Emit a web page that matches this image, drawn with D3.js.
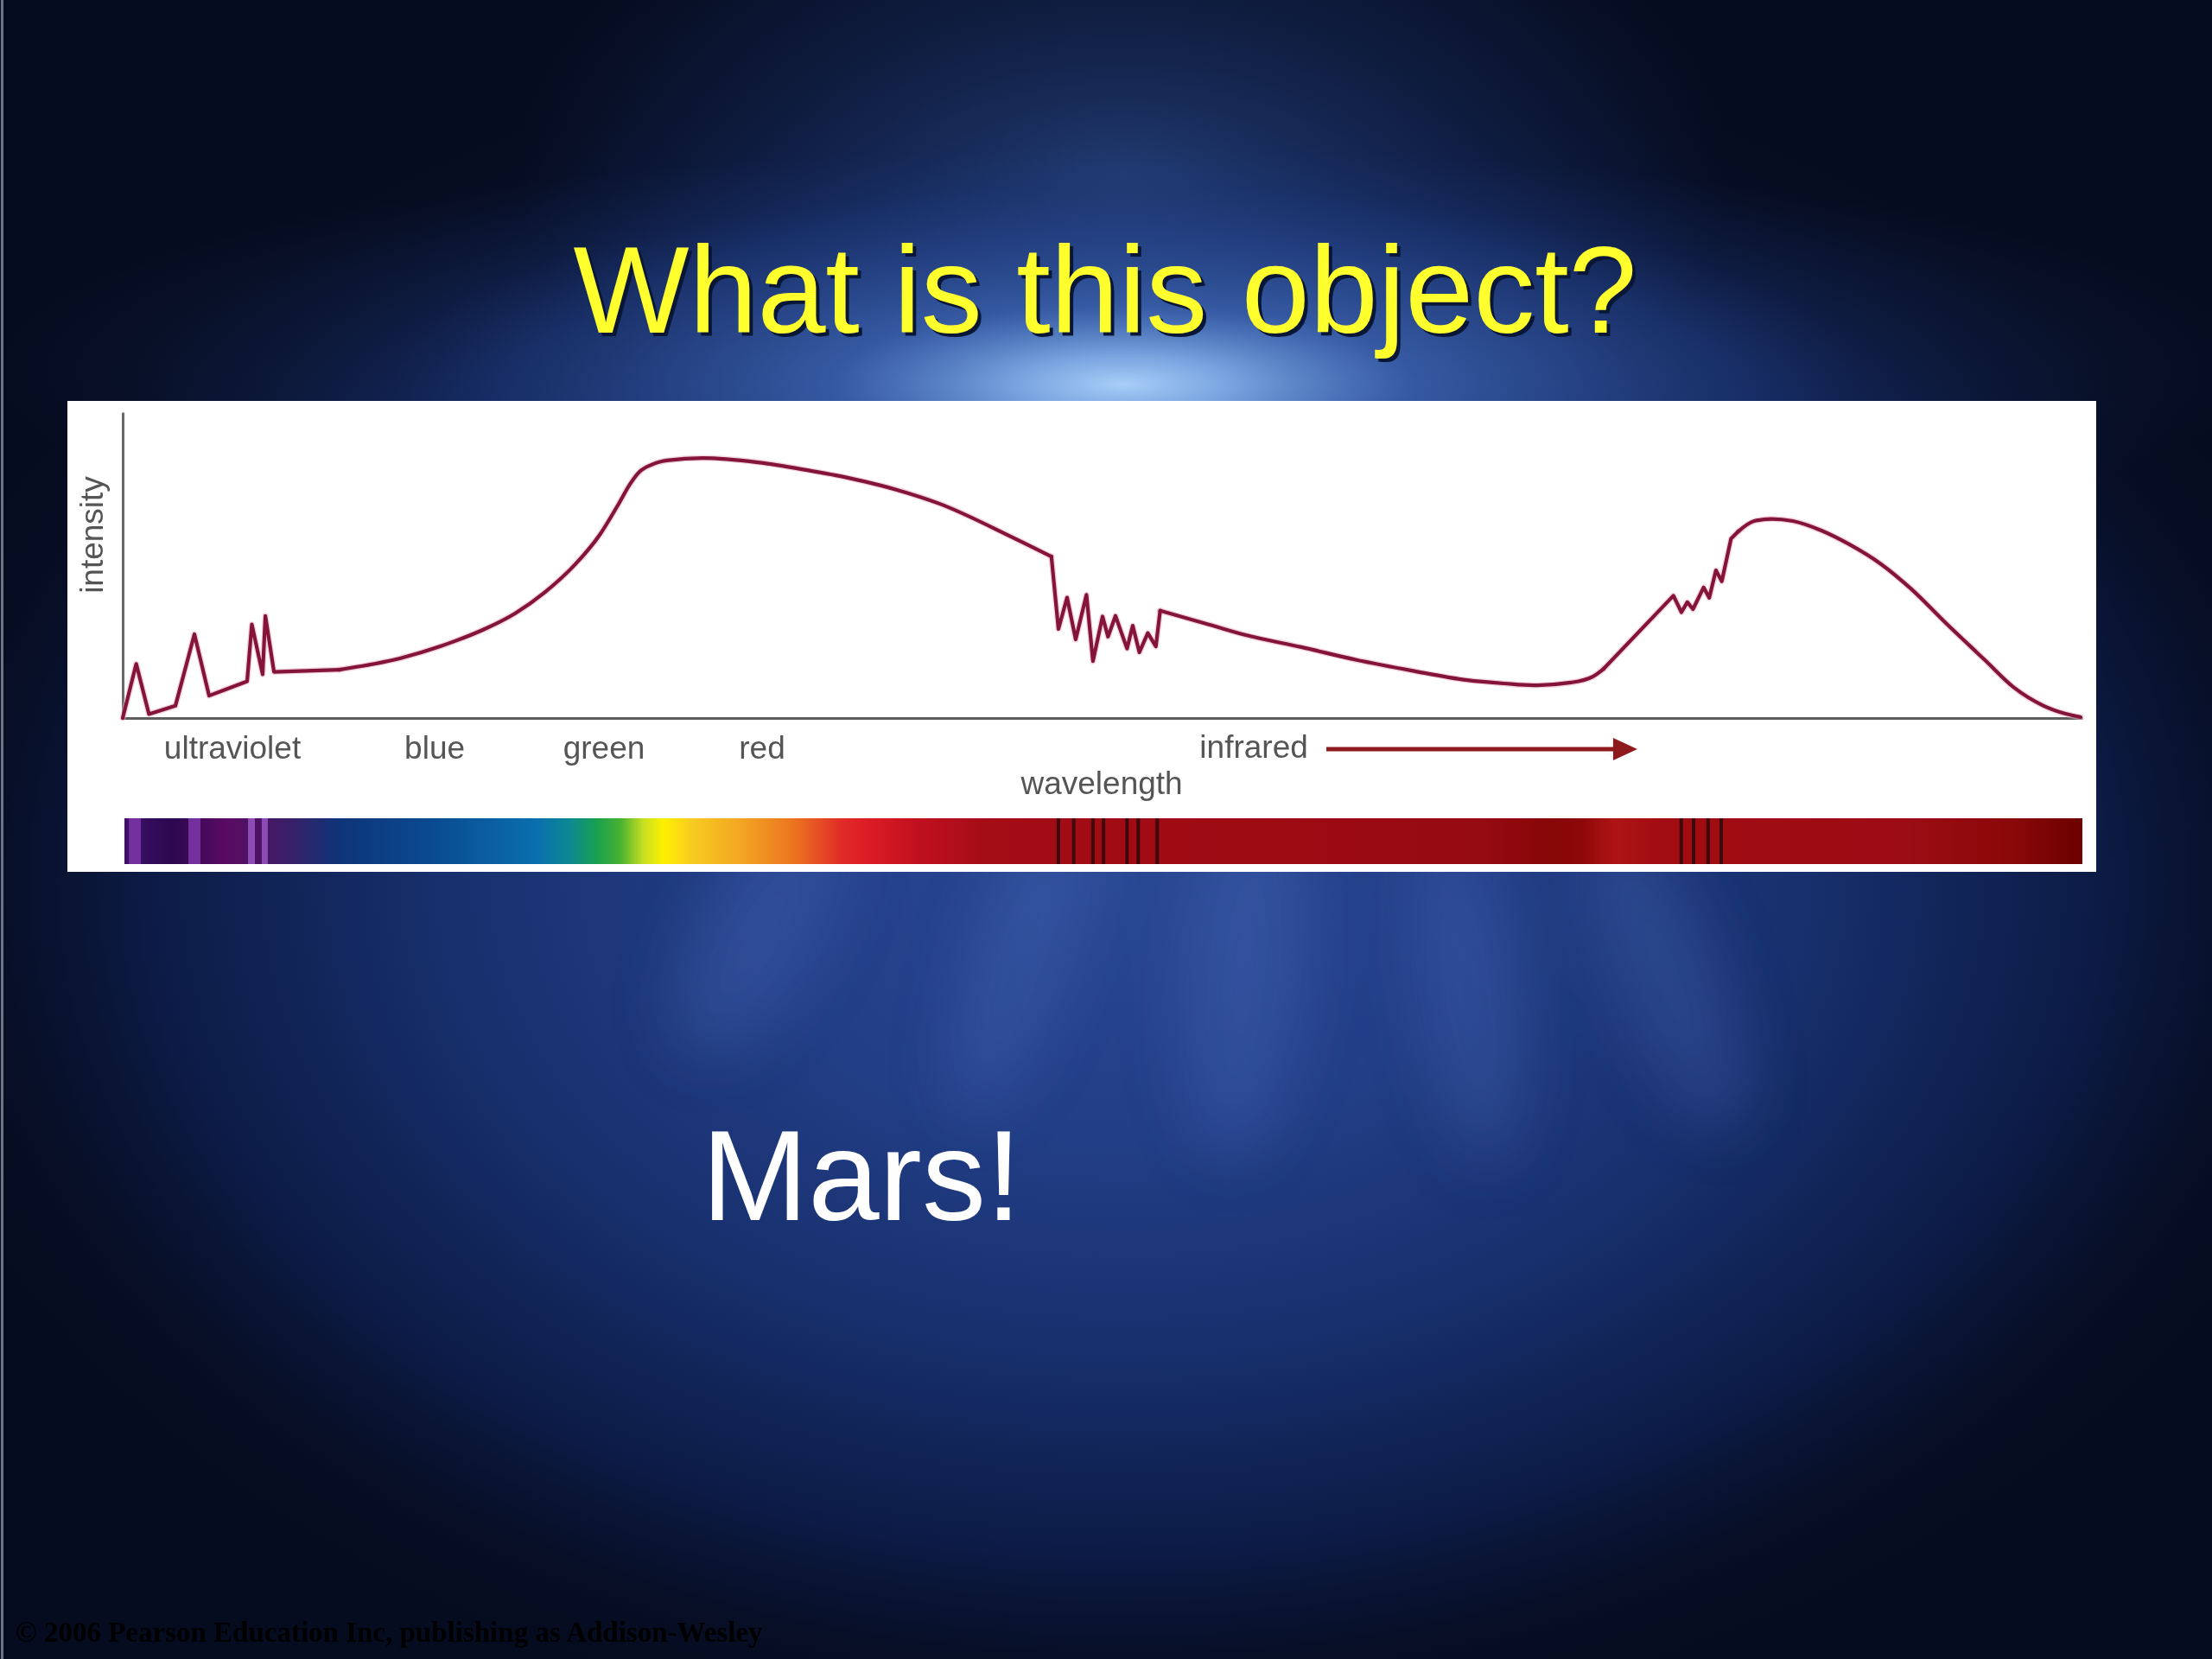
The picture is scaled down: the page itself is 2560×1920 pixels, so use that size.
<!DOCTYPE html>
<html>
<head>
<meta charset="utf-8">
<script src="https://cdn.jsdelivr.net/npm/d3@7"></script>
<style>
  html, body { margin: 0; padding: 0; background: #060c20; }
  svg { display: block; }
</style>
</head>
<body>
<script>
// ---------------- DATA ----------------
// wavelength in arbitrary units (0..1000), intensity in arbitrary units (0..100)
const wavelength = [
  0.0, 6.9, 13.4, 26.9, 36.6, 44.1, 63.5, 65.9, 71.4, 72.8, 77.2,
  110.5, 141.4, 169.3, 184.7, 200.2, 215.6, 231.0, 243.4, 252.6, 259.0, 263.7, 269.8, 277.6,
  296.1, 324.1, 348.8, 370.4, 395.1, 416.7, 453.3, 473.9,
  477.5, 481.9, 486.3, 491.8, 495.1, 500.0, 502.8, 506.6, 512.5, 515.4, 518.8, 523.1, 527.2, 529.4,
  554.2, 573.2, 601.4, 629.6, 657.8, 686.1, 705.0, 720.0, 739.0, 750.3, 755.7,
  791.3, 795.4, 798.4, 801.3, 806.7, 809.6, 813.0, 816.0, 820.7, 824.4,
  832.5, 841.3, 852.3, 866.8, 881.0, 897.3, 912.3, 931.2, 950.2, 965.2, 980.2, 991.4, 999.1
];
const intensity = [
  0.0, 17.7, 1.3, 4.0, 27.4, 7.3, 12.0, 30.6, 14.3, 33.4, 15.1,
  15.8, 19.5, 25.1, 29.1, 34.2, 41.2, 50.3, 59.9, 69.5, 76.6, 80.5, 82.8, 84.2,
  85.0, 83.6, 81.1, 78.5, 74.6, 70.1, 59.3, 52.8,
  29.1, 39.4, 25.7, 40.3, 18.6, 33.2, 26.6, 33.4, 22.7, 30.2, 21.5, 27.8, 23.4, 35.1,
  30.6, 27.1, 23.2, 19.0, 15.5, 12.4, 11.3, 10.7, 11.6, 13.6, 16.1,
  40.0, 34.6, 37.9, 35.6, 42.7, 39.3, 48.3, 44.7, 58.6, 61.0,
  64.4, 65.1, 64.4, 61.3, 56.8, 50.3, 42.4, 30.5, 19.0, 9.9, 4.0, 1.4, 0.3
];
const bandLabels = ["ultraviolet", "blue", "green", "red"];
const bandPositions = [56.0, 159.2, 245.6, 326.3];
const infraredLabel = "infrared";
const infraredPosition = 577.2;
const arrowRange = [614.2, 772.9];
const xAxisTitle = "wavelength";
const xAxisTitlePosition = 499.6;
const yAxisTitle = "intensity";
const emissionLines = [6.2, 36.6, 65.7, 72.5];
const absorptionLines = [477.5, 485.3, 495.1, 500.5, 512.5, 518.2, 527.9, 795.3, 801.6, 809.0, 815.7];
const titleText = "What is this object?";
const answerText = "Mars!";
const copyrightText = "\u00A9 2006 Pearson Education Inc, publishing as Addison-Wesley";

// ---------------- LAYOUT / STYLE ----------------
const W = 2560, H = 1920;
const SANS = "'Liberation Sans', Arial, Helvetica, sans-serif";
const SERIF = "'Liberation Serif', 'Times New Roman', serif";
const emissionWidths = [14, 14, 8, 7];
// index ranges of the curve: smooth stretches drawn with a monotone curve, the rest linear
const segments = [
  [0, 11, "linear"], [11, 31, "smooth"], [31, 45, "linear"], [45, 56, "smooth"],
  [56, 66, "linear"], [66, 79, "smooth"]
];
const spectrumStops = [
  [144, "#3e1068"], [200, "#2c0850"], [262, "#5a0a62"], [300, "#4a1464"], [335, "#3a2068"],
  [392, "#0e3478"], [500, "#0a4a90"], [620, "#0a6eae"], [660, "#0c8a92"], [690, "#18a050"],
  [718, "#48b232"], [745, "#c8e020"], [768, "#fff000"], [800, "#f8cc20"], [860, "#f2a422"],
  [920, "#ec7220"], [975, "#e02a28"], [1005, "#dc1c24"], [1060, "#c21020"], [1140, "#a40c16"],
  [1500, "#9c0a12"], [1720, "#960a12"], [1795, "#860606"], [1830, "#8e0808"], [1868, "#ae1414"],
  [1920, "#a20c12"], [2200, "#9c0c14"], [2330, "#8a0808"], [2410, "#6c0000"]
];

const svg = d3.select("body").append("svg")
  .attr("width", W).attr("height", H)
  .attr("viewBox", `0 0 ${W} ${H}`);

const defs = svg.append("defs");

function radial(id, stops) {
  const g = defs.append("radialGradient").attr("id", id)
    .attr("cx", "0.5").attr("cy", "0.5").attr("r", "0.5");
  stops.forEach(([o, c, a]) => g.append("stop").attr("offset", o).attr("stop-color", c)
    .attr("stop-opacity", a === undefined ? 1 : a));
}
radial("bgMain", [[0, "#2a4894"], [0.3, "#223e86"], [0.55, "#172f6c"], [0.78, "#0d1d4a", 0.9], [1, "#060c20", 0]]);
radial("glow", [[0, "#a8cef8", 1], [0.15, "#80ade8", 0.9], [0.4, "#4a76c8", 0.5], [1, "#2a4a96", 0]]);
radial("soft", [[0, "#34589e", 0.55], [0.6, "#24448c", 0.25], [1, "#24448c", 0]]);

defs.append("filter").attr("id", "blur").attr("x", "-50%").attr("y", "-50%").attr("width", "200%").attr("height", "200%")
  .append("feGaussianBlur").attr("stdDeviation", 35);

svg.append("rect").attr("width", W).attr("height", H).attr("fill", "#060c20");
svg.append("ellipse").attr("cx", 1300).attr("cy", 1020).attr("rx", 1450).attr("ry", 1000)
  .attr("fill", "url(#bgMain)");
svg.append("ellipse").attr("cx", 1300).attr("cy", 200).attr("rx", 700).attr("ry", 380)
  .attr("fill", "url(#soft)");
svg.append("ellipse").attr("cx", 1300).attr("cy", 430).attr("rx", 1300).attr("ry", 260)
  .attr("fill", "url(#soft)");
svg.append("ellipse").attr("cx", 1300).attr("cy", 445).attr("rx", 850).attr("ry", 230)
  .attr("fill", "url(#glow)");

// light rays below the chart
const rays = [[1180, 1110, 55, 190, 18], [1440, 1130, 70, 210, 5], [1700, 1150, 55, 200, -8], [1930, 1130, 60, 190, -22], [880, 1080, 70, 160, 30]];
svg.append("g").attr("filter", "url(#blur)")
  .selectAll("ellipse").data(rays).join("ellipse")
  .attr("cx", d => d[0]).attr("cy", d => d[1]).attr("rx", d => d[2]).attr("ry", d => d[3])
  .attr("transform", d => `rotate(${d[4]},${d[0]},${d[1]})`)
  .attr("fill", "#5a7ed2").attr("fill-opacity", 0.22);

// left edge thin line
svg.append("rect").attr("x", 1).attr("y", 0).attr("width", 3).attr("height", H).attr("fill", "#6c7486");

// ---------------- TITLE ----------------
const titleG = svg.append("g").attr("font-family", SANS).attr("font-size", 142).attr("text-anchor", "middle");
titleG.append("text").attr("x", 1283).attr("y", 389).attr("fill", "#0a1636").text(titleText);
titleG.append("text").attr("x", 1279).attr("y", 385).attr("fill", "#ffff2e").text(titleText);

// ---------------- CHART PANEL ----------------
svg.append("rect").attr("x", 78).attr("y", 464).attr("width", 2348).attr("height", 545).attr("fill", "#ffffff");

const x = d3.scaleLinear().domain([0, 1000]).range([142, 2410]);
const y = d3.scaleLinear().domain([0, 100]).range([831, 477]);

// axes
const xAxis = svg.append("g").attr("transform", `translate(0,${y(0)})`)
  .call(d3.axisBottom(x).tickValues([]).tickSizeOuter(0));
xAxis.select(".domain").attr("stroke", "#5e5e5e").attr("stroke-width", 3);
const yAxis = svg.append("g").attr("transform", `translate(${x(0)},0)`)
  .call(d3.axisLeft(y).tickValues([]).tickSizeOuter(0));
yAxis.select(".domain").attr("stroke", "#6a6a6a").attr("stroke-width", 3);

// band labels
const labelG = svg.append("g").attr("font-family", SANS).attr("font-size", 37).attr("fill", "#555555")
  .attr("text-anchor", "middle");
labelG.selectAll("text.band").data(bandLabels).join("text").attr("class", "band")
  .attr("x", (d, i) => x(bandPositions[i])).attr("y", 878).text(d => d);
labelG.append("text").attr("x", x(infraredPosition)).attr("y", 877).text(infraredLabel);
labelG.append("text").attr("x", x(xAxisTitlePosition)).attr("y", 919).text(xAxisTitle);
labelG.append("text").attr("transform", `translate(119,619) rotate(-90)`).text(yAxisTitle);

// infrared arrow
const ax0 = x(arrowRange[0]), ax1 = x(arrowRange[1]);
svg.append("line").attr("x1", ax0).attr("x2", ax1 - 20).attr("y1", 867).attr("y2", 867)
  .attr("stroke", "#8e1a1e").attr("stroke-width", 5);
svg.append("path").attr("d", `M${ax1},867 L${ax1 - 28},854 L${ax1 - 28},880 Z`).attr("fill", "#8e1a1e");

// spectrum curve built from segments
const pts = wavelength.map((w, i) => [w, intensity[i]]);
const lineLinear = d3.line().x(d => x(d[0])).y(d => y(d[1])).curve(d3.curveLinear);
const lineSmooth = d3.line().x(d => x(d[0])).y(d => y(d[1])).curve(d3.curveMonotoneX);
const curveG = svg.append("g").attr("fill", "none").attr("stroke-linejoin", "round").attr("stroke-linecap", "round");
[["#e8b4c8", 7, 0.55], ["#841438", 4.2, 1]].forEach(([col, sw, op]) => {
  segments.forEach(([a, b, kind]) => {
    const seg = pts.slice(a, b + 1);
    curveG.append("path").datum(seg)
      .attr("d", kind === "smooth" ? lineSmooth : lineLinear)
      .attr("stroke", col).attr("stroke-width", sw).attr("opacity", op);
  });
});

// spectrum bar
const barX0 = 144, barX1 = 2410, barY = 947, barH = 53;
const specGrad = defs.append("linearGradient").attr("id", "spec")
  .attr("gradientUnits", "userSpaceOnUse").attr("x1", barX0).attr("x2", barX1).attr("y1", 0).attr("y2", 0);
spectrumStops.forEach(([px, c]) => specGrad.append("stop")
  .attr("offset", (px - barX0) / (barX1 - barX0)).attr("stop-color", c));
svg.append("rect").attr("x", barX0).attr("y", barY).attr("width", barX1 - barX0).attr("height", barH)
  .attr("fill", "url(#spec)");

svg.append("g").selectAll("rect").data(emissionLines).join("rect")
  .attr("x", (d, i) => x(d) - emissionWidths[i] / 2).attr("width", (d, i) => emissionWidths[i])
  .attr("y", barY).attr("height", barH)
  .attr("fill", (d, i) => i < 2 ? "#74309e" : "#8c4cb4");

svg.append("g").selectAll("rect").data(absorptionLines).join("rect")
  .attr("x", d => x(d) - 2).attr("width", 4)
  .attr("y", barY).attr("height", barH).attr("fill", "#3c0a0c");

// ---------------- ANSWER ----------------
svg.append("text").attr("x", 812).attr("y", 1412).attr("font-family", SANS).attr("font-size", 148)
  .attr("fill", "#ffffff").text(answerText);

// ---------------- COPYRIGHT ----------------
svg.append("text").attr("x", 18).attr("y", 1900).attr("font-family", SERIF).attr("font-weight", "bold")
  .attr("font-size", 33).attr("fill", "#000000").text(copyrightText);
</script>
</body>
</html>
